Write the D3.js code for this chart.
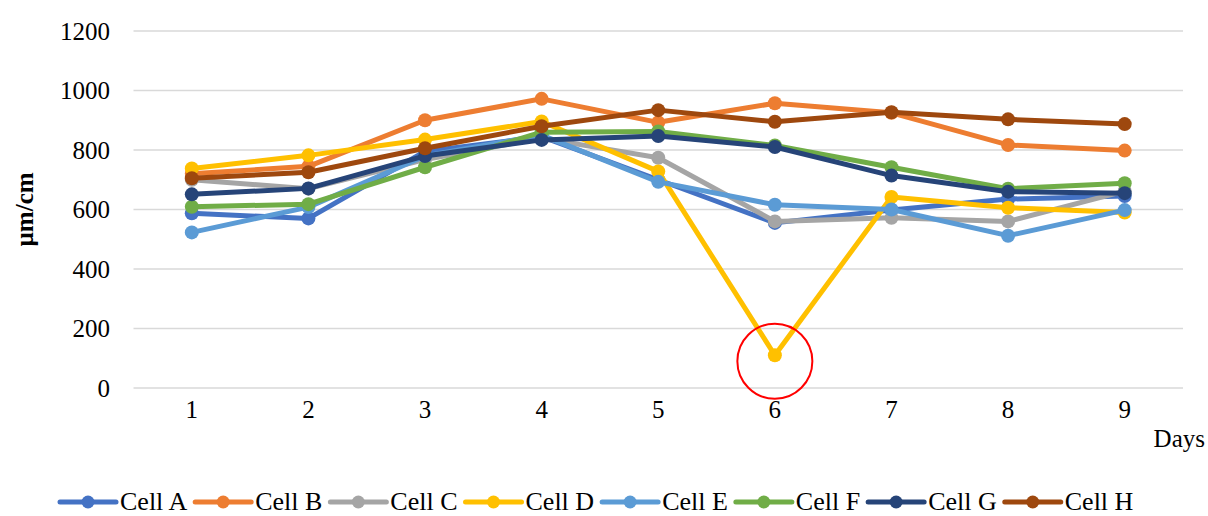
<!DOCTYPE html>
<html>
<head>
<meta charset="utf-8">
<script src="https://cdn.jsdelivr.net/npm/d3@7"></script>
<style>
    body { margin: 0; background: #fff; }
    svg text { font-family: "Liberation Serif", "Times New Roman", serif; fill: #000; }
</style>
</head>
<body>
<svg class="line-chart" width="1208" height="516"></svg>
<script>
var days = [1, 2, 3, 4, 5, 6, 7, 8, 9];
var yTicks = [0, 200, 400, 600, 800, 1000, 1200];
var seriesNames = ["Cell A", "Cell B", "Cell C", "Cell D", "Cell E", "Cell F", "Cell G", "Cell H"];
var seriesColors = ["#4472C4", "#ED7D31", "#A5A5A5", "#FFC000", "#5B9BD5", "#70AD47", "#264478", "#9E480E"];

var cellA = [587, 570, 795, 845, 700, 555, 598, 635, 645];
var cellB = [720, 745, 900, 972, 893, 957, 925, 817, 798];
var cellC = [700, 670, 768, 840, 774, 560, 572, 560, 662];
var cellD = [738, 782, 835, 896, 728, 110, 642, 606, 590];
var cellE = [523, 608, 780, 850, 693, 616, 600, 512, 598];
var cellF = [609, 618, 742, 860, 862, 815, 742, 670, 688];
var cellG = [651, 671, 780, 834, 847, 810, 714, 660, 655];
var cellH = [705, 725, 806, 880, 934, 895, 927, 903, 887];

var seriesValues = [cellA, cellB, cellC, cellD, cellE, cellF, cellG, cellH];

// the dip of Cell D on day 6 is circled in the original
var flagSeries = 3,
    flagDay = 6;

var chart = (function() {

    var svg = d3.select("svg.line-chart");

    var plotLeft = 133.5,
        plotRight = 1183,
        plotTop = 31,
        plotBottom = 388;

    var x = d3.scalePoint()
        .domain(days)
        .range([plotLeft, plotRight])
        .padding(0.5);

    var y = d3.scaleLinear()
        .domain([0, 1200])
        .range([plotBottom, plotTop]);

    function drawAxes() {
        svg.selectAll(".grid")
            .data(yTicks)
            .enter()
                .append("line")
                .attr("class", "grid")
                .attr("x1", plotLeft)
                .attr("x2", plotRight)
                .attr("y1", function(d) { return y(d); })
                .attr("y2", function(d) { return y(d); })
                .attr("stroke", "#D9D9D9")
                .attr("stroke-width", 1.5);

        svg.selectAll(".y-label")
            .data(yTicks)
            .enter()
                .append("text")
                .attr("class", "y-label")
                .attr("x", 110)
                .attr("y", function(d) { return y(d) + 8.5; })
                .attr("text-anchor", "end")
                .attr("font-size", "25px")
                .text(function(d) { return d; });

        svg.selectAll(".x-label")
            .data(days)
            .enter()
                .append("text")
                .attr("class", "x-label")
                .attr("x", function(d) { return x(d); })
                .attr("y", 418)
                .attr("text-anchor", "middle")
                .attr("font-size", "25px")
                .text(function(d) { return d; });

        svg.append("text")
            .attr("x", 1205)
            .attr("y", 447)
            .attr("text-anchor", "end")
            .attr("font-size", "25px")
            .text("Days");

        svg.append("text")
            .attr("transform", "translate(33," + ((plotTop + plotBottom) / 2) + ") rotate(-90)")
            .attr("text-anchor", "middle")
            .attr("font-size", "25px")
            .attr("font-weight", "bold")
            .text("µm/cm");
    }

    function drawSeries() {
        var line = d3.line()
            .x(function(d, i) { return x(days[i]); })
            .y(function(d) { return y(d); });

        var groups = svg.selectAll(".series")
            .data(seriesValues)
            .enter()
                .append("g")
                .attr("class", "series");

        groups.append("path")
            .attr("d", function(d) { return line(d); })
            .attr("fill", "none")
            .attr("stroke", function(d, i) { return seriesColors[i]; })
            .attr("stroke-width", 5)
            .attr("stroke-linejoin", "round")
            .attr("stroke-linecap", "round");

        groups.each(function(d, si) {
            d3.select(this).selectAll("circle")
                .data(d)
                .enter()
                    .append("circle")
                    .attr("cx", function(v, i) { return x(days[i]); })
                    .attr("cy", function(v) { return y(v); })
                    .attr("r", 7)
                    .attr("fill", seriesColors[si]);
        });

        // red circle round the outlier
        svg.append("circle")
            .attr("cx", x(flagDay))
            .attr("cy", y(seriesValues[flagSeries][days.indexOf(flagDay)]) + 6)
            .attr("r", 37.5)
            .attr("fill", "none")
            .attr("stroke", "#FF0000")
            .attr("stroke-width", 2);
    }

    function drawLegend() {
        var legendY = 502,
            legendX = 60,
            swatch = 56;

        var legend = svg.selectAll(".legend")
            .data(seriesNames)
            .enter()
                .append("g")
                .attr("class", "legend");

        legend.append("line")
            .attr("x1", 0)
            .attr("x2", swatch)
            .attr("y1", 0)
            .attr("y2", 0)
            .attr("stroke", function(d, i) { return seriesColors[i]; })
            .attr("stroke-width", 5)
            .attr("stroke-linecap", "round");

        legend.append("circle")
            .attr("cx", swatch / 2)
            .attr("cy", 0)
            .attr("r", 6.5)
            .attr("fill", function(d, i) { return seriesColors[i]; });

        legend.append("text")
            .attr("x", swatch + 4)
            .attr("y", 8)
            .attr("font-size", "26px")
            .text(function(d) { return d; });

        legend.each(function() {
            var g = d3.select(this);
            g.attr("transform", "translate(" + legendX + "," + legendY + ")");
            var w = g.select("text").node().getComputedTextLength();
            legendX += swatch + 4 + w + 8;
        });
    }

    return {
        draw: function() {
            drawAxes();
            drawSeries();
            drawLegend();
        }
    };
})();

chart.draw();
</script>
</body>
</html>
